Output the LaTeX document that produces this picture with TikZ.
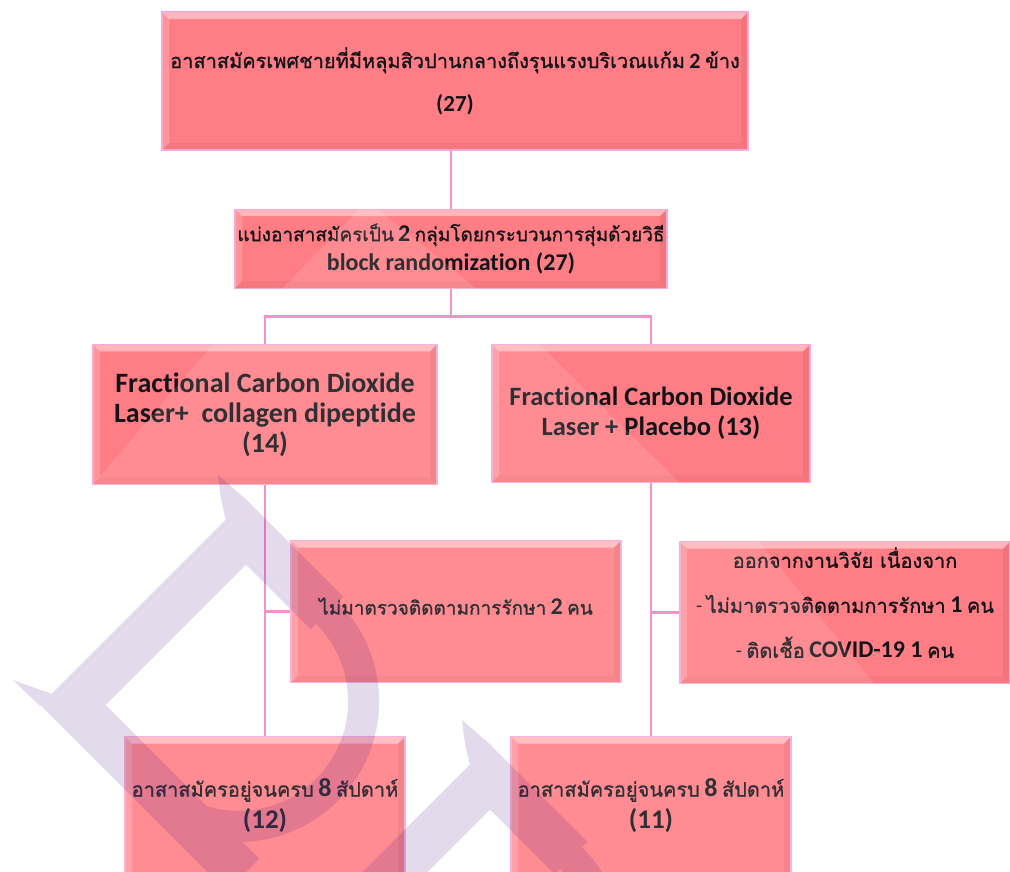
\documentclass[tikz,border=0pt]{standalone}
\usepackage{fontspec}
\setmainfont{Carlito}[Ligatures=NoCommon]
\newfontfamily\thaifont[Script=Thai, FakeBold=1]{Loma}
\usepackage{tikz}
\usetikzlibrary{positioning,calc}

\definecolor{boxbase}{RGB}{255,125,132}
\definecolor{boxline}{RGB}{247,170,215}
\definecolor{linkpink}{RGB}{243,145,205}
\definecolor{markink}{RGB}{68,15,128}
\definecolor{inkdark}{RGB}{20,20,24}

\newcommand\tht[1]{{\thaifont #1}}
\newcommand\boxbevel{%
  \coordinate (bnw) at (path picture bounding box.north west);
  \coordinate (bne) at (path picture bounding box.north east);
  \coordinate (bsw) at (path picture bounding box.south west);
  \coordinate (bse) at (path picture bounding box.south east);
  \fill[white,opacity=.45] (bnw) -- (bne) -- ++(-7pt,-7pt) -- ($(bnw)+(7pt,-7pt)$) -- cycle;
  \fill[white,opacity=.18] (bnw) -- ++(7pt,-7pt) -- ($(bsw)+(7pt,7pt)$) -- (bsw) -- cycle;
  \fill[black,opacity=.06] (bne) -- ++(-7pt,-7pt) -- ($(bse)+(-7pt,7pt)$) -- (bse) -- cycle;
  \fill[black,opacity=.04] (bsw) -- ++(7pt,7pt) -- ($(bse)+(-7pt,7pt)$) -- (bse) -- cycle;
}

\begin{document}
\begin{tikzpicture}[x=1pt, y=1pt,
  stage/.style={draw=boxline, line width=1.2pt, fill=boxbase, text=inkdark, align=center, inner sep=2pt, path picture={\boxbevel}},
  link/.style={draw=linkpink, line width=2.8pt}
]
  \useasboundingbox (0,0) rectangle (1010,-871);
  \clip (0,0) rectangle (1010,-871);

  % Recruitment
  \node[stage, minimum width=586pt, minimum height=138pt, font=\fontsize{20}{26}\selectfont] (pool) at (455,-81)
    {\tht{อาสาสมัครเพศชายที่มีหลุมสิวปานกลางถึงรุนแรงบริเวณแก้ม} {\fontsize{22}{26}\selectfont\bfseries 2} \tht{ข้าง}\\[17pt]{\fontsize{23}{26}\selectfont\bfseries (27)}};

  % Randomisation
  \node[stage, below=58pt of pool, xshift=-4pt, minimum width=432pt, minimum height=79pt, font=\fontsize{19}{29}\selectfont] (split)
    {\tht{แบ่งอาสาสมัครเป็น} {\fontsize{24}{29}\selectfont\bfseries 2} \tht{กลุ่มโดยกระบวนการสุ่มด้วยวิธี}\\{\fontsize{24}{29}\selectfont\bfseries block randomization (27)}};

  % Arms
  \node[stage, below=55pt of split, xshift=-186pt, minimum width=344pt, minimum height=140pt, font=\fontsize{28}{30}\selectfont\bfseries] (armA)
    {Fractional Carbon Dioxide\\Laser+\ \ collagen dipeptide\\(14)};
  \node[stage, below=55pt of split, xshift=200pt, minimum width=318pt, minimum height=138pt, font=\fontsize{26.5}{30}\selectfont\bfseries] (armB)
    {Fractional Carbon Dioxide\\Laser + Placebo (13)};

  % Drop-outs
  \node[stage, below=55pt of armA, xshift=191pt, minimum width=330pt, minimum height=142pt, font=\fontsize{19}{24}\selectfont, text height=18pt, text depth=12pt] (dropA)
    {\tht{ไม่มาตรวจติดตามการรักษา} {\fontsize{24}{24}\selectfont\bfseries 2} \tht{คน}};
  \node[stage, below=58pt of armB, xshift=194pt, minimum width=330pt, minimum height=142pt, font=\fontsize{20}{45}\selectfont, text depth=20pt] (dropB)
    {\tht{ออกจากงานวิจัย เนื่องจาก}\\- \tht{ไม่มาตรวจติดตามการรักษา} {\fontsize{24}{45}\selectfont\bfseries 1} \tht{คน}\\- \tht{ติดเชื้อ} {\fontsize{24}{45}\selectfont\bfseries COVID-19 1} \tht{คน}};

  % Completed
  \node[stage, below=251pt of armA, minimum width=280pt, minimum height=150pt, font=\fontsize{20}{32}\selectfont, text depth=16pt] (endA)
    {\tht{อาสาสมัครอยู่จนครบ} {\fontsize{26}{32}\selectfont\bfseries 8} \tht{สัปดาห์}\\{\fontsize{27}{32}\selectfont\bfseries (12)}};
  \node[stage, below=253pt of armB, minimum width=280pt, minimum height=150pt, font=\fontsize{20}{32}\selectfont, text depth=16pt] (endB)
    {\tht{อาสาสมัครอยู่จนครบ} {\fontsize{26}{32}\selectfont\bfseries 8} \tht{สัปดาห์}\\{\fontsize{27}{32}\selectfont\bfseries (11)}};

  % Connectors
  \draw[link] (split.north) -- (split.north |- pool.south);
  \draw[link] (split.south) -- ++(0,-28) coordinate (fork);
  \draw[link] (armA.north) |- (fork) -| (armB.north);
  \draw[link] (armA.south) -- (endA.north);
  \draw[link] (armB.south) -- (endB.north);
  \draw[link] (dropA.west) -- (dropA.west -| armA.south);
  \draw[link] (dropB.west) -- (dropB.west -| armB.south);

  % Glossy sheen
  \foreach \n/\ta/\tb/\ba/\bb in {split/.29/.33/.11/.56, armA/.35/1/0/1, armB/0/.15/0/.59, dropA/0/1/0/1, dropB/0/.24/0/.59, endA/0/1/0/1, endB/0/1/0/1}
    \fill[white, opacity=.12] ($(\n.north west)!\ta!(\n.north east)$) -- ($(\n.north west)!\tb!(\n.north east)$) -- ($(\n.south west)!\bb!(\n.south east)$) -- ($(\n.south west)!\ba!(\n.south east)$) -- cycle;

  % Watermark
  \begin{scope}[transparency group, opacity=.15]
    \foreach \dx/\dy in {0/0, 244/-245} {
      \begin{scope}[shift={(\dx,\dy)}]
        \draw[markink, line width=46pt] (243,-875) -- (73,-705) -- (246,-532) -- (327,-613);
        \draw[markink, line width=31pt] (327,-613) arc[start angle=45, end angle=-135, radius=125];
        \fill[markink] (226,-520) .. controls (221,-500) .. (218,-475) -- (248,-501) -- cycle;
        \fill[markink] (13,-680) -- (52,-694) -- (40,-706) -- cycle;
      \end{scope}
    }
  \end{scope}
\end{tikzpicture}
\end{document}
